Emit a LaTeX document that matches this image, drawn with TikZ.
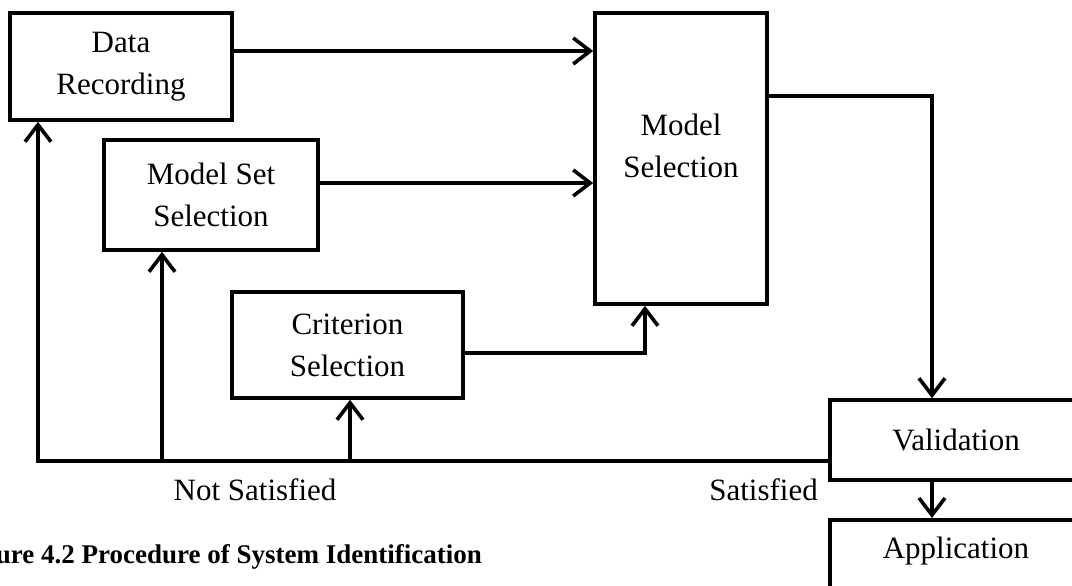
\documentclass[tikz,border=0pt]{standalone}
\usepackage{fontspec}
\setmainfont{Liberation Serif}
\usetikzlibrary{arrows.meta}
\begin{document}
\begin{tikzpicture}[x=1pt,y=-1pt,
  box/.style={draw, line width=3.6pt, inner sep=0pt, align=center, font=\fontsize{31}{42}\selectfont},
  arr/.style={line width=3.6pt, -{Straight Barb[length=17pt,width=26pt,line width=3.6pt]}},
  lbl/.style={font=\fontsize{31}{42}\selectfont, inner sep=0pt},
  captxt/.style={font=\fontsize{27}{32}\selectfont\bfseries, inner sep=0pt}]
\useasboundingbox (0,0) rectangle (1072,586);

\node (DR)  [box, minimum width=222pt, minimum height=107pt] at (121,66.5) {Data\\Recording};
\node (MSS) [box, minimum width=214pt, minimum height=110pt] at (211,195) {Model Set\\Selection};
\node (CS)  [box, minimum width=231pt, minimum height=106pt] at (347.5,345) {Criterion\\Selection};
\node (MS)  [box, minimum width=172pt, minimum height=291pt] at (681,158.5) {Model\\Selection\\[-16pt]};
\node (VAL) [box, minimum width=252pt, minimum height=80pt] at (956,440) {Validation};
\node (APP) [box, minimum width=252pt, minimum height=100pt, anchor=north,
  label={[lbl, anchor=center, yshift=-33pt]north:Application}] at (956,518) {};

\draw[arr] ([yshift=15.5pt]DR.east) -- ([yshift=15.5pt]DR.east -| MS.west);
\draw[arr] ([yshift=12pt]MSS.east) -- ([yshift=12pt]MSS.east -| MS.west);
\draw[arr] ([yshift=-8pt]CS.east) -| ([xshift=-36pt]MS.south);
\draw[arr] ([yshift=62.5pt]MS.east) -| ([xshift=-24pt]VAL.north);
\draw[arr] ([xshift=-24pt]VAL.south) -- ([xshift=-24pt]APP.north);

\coordinate (fb) at ([yshift=-21pt]VAL.west);
\coordinate (t1) at ([xshift=-83pt]DR.south);
\coordinate (t2) at ([xshift=-49pt]MSS.south);
\coordinate (t3) at ([xshift=2.5pt]CS.south);
\draw[arr] (fb) -| (t1);
\draw[arr] (t2 |- fb) -- (t2);
\draw[arr] (t3 |- fb) -- (t3);

\node (ns) [lbl] at (255,490) {Not Satisfied};
\node (sa) [lbl, anchor=east] at (818,490) {Satisfied};
\node (fig) [captxt, anchor=base east] at (482,563) {Figure 4.2 Procedure of System Identification};
\end{tikzpicture}
\end{document}
